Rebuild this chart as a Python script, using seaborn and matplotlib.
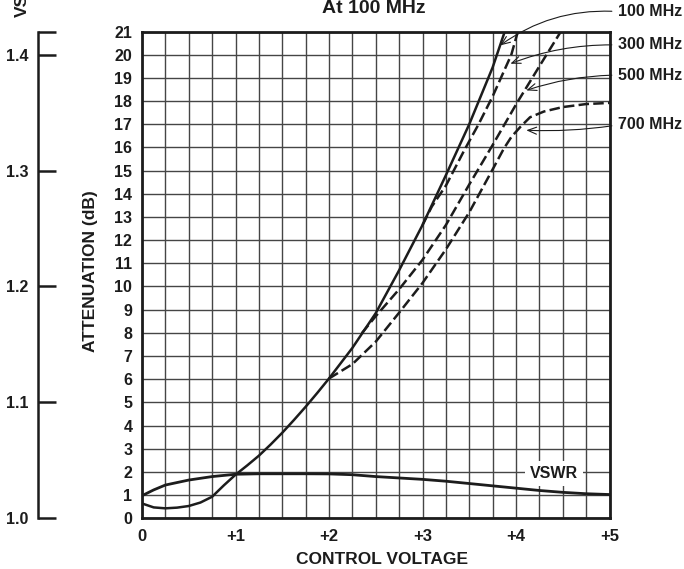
import numpy as np
import matplotlib
matplotlib.use("Agg")
import matplotlib.pyplot as plt
import seaborn as sns

# ---------------- data ----------------
# 100 MHz attenuation (solid)
volt_100 = [0, 0.125, 0.25, 0.375, 0.5, 0.625, 0.75, 0.875, 1.0, 1.125, 1.25,
            1.375, 1.5, 1.625, 1.75, 1.875, 2.0, 2.25, 2.5, 2.75, 3.0, 3.25,
            3.5, 3.75, 3.88]
att_100 = [0.64, 0.47, 0.43, 0.46, 0.53, 0.68, 0.93, 1.42, 1.88, 2.28, 2.70,
           3.18, 3.69, 4.24, 4.81, 5.41, 6.03, 7.35, 8.85, 10.70, 12.65, 14.80,
           17.00, 19.45, 21.00]

# 300 MHz attenuation (dashed)
volt_300 = [3.0, 3.1, 3.25, 3.45, 3.6, 3.75, 3.95, 4.02]
att_300 = [12.65, 13.45, 14.35, 15.90, 17.00, 18.20, 20.00, 21.00]

# 500 MHz attenuation (dashed)
volt_500 = [2.35, 2.5, 2.75, 3.0, 3.25, 3.5, 3.75, 4.0, 4.25, 4.48]
att_500 = [7.98, 8.72, 9.88, 11.15, 12.65, 14.40, 16.10, 17.85, 19.50, 21.00]

# 700 MHz attenuation (dashed)
volt_700 = [2.0, 2.25, 2.5, 2.75, 3.0, 3.25, 3.5, 3.75, 3.87, 3.95, 4.05,
            4.15, 4.3, 4.5, 4.75, 5.0]
att_700 = [6.03, 6.65, 7.62, 8.87, 10.15, 11.60, 13.20, 15.05, 15.95, 16.45,
           16.90, 17.30, 17.55, 17.74, 17.87, 17.92]

# VSWR at 100 MHz (left scale)
volt_vswr = [0, 0.125, 0.25, 0.5, 0.75, 1.0, 1.25, 1.5, 1.75, 2.0, 2.25, 2.5,
             2.75, 3.0, 3.25, 3.5, 3.75, 4.0, 4.25, 4.5, 4.75, 5.0]
vswr = [1.0195, 1.0245, 1.0287, 1.0330, 1.0360, 1.0380, 1.0384, 1.0384,
        1.0384, 1.0383, 1.0376, 1.0360, 1.0348, 1.0336, 1.0320, 1.0300,
        1.0280, 1.0260, 1.0240, 1.0224, 1.0212, 1.0205]

x_ticks = [0, 1, 2, 3, 4, 5]
x_tick_labels = ["0", "+1", "+2", "+3", "+4", "+5"]
y_ticks = list(range(0, 22))
vswr_ticks = [1.0, 1.1, 1.2, 1.3, 1.4, 1.42]
vswr_tick_labels = ["1.0", "1.1", "1.2", "1.3", "1.4", ""]
freq_labels = ["100 MHz", "300 MHz", "500 MHz", "700 MHz"]

# ---------------- style ----------------
sns.set_style("white")
plt.rcParams["font.family"] = ["Liberation Sans", "DejaVu Sans"]
plt.rcParams["font.weight"] = "bold"
INK = "#1c1c1c"

W, H = 684, 569
fig = plt.figure(figsize=(W / 100, H / 100), dpi=100)
L, R, T, B = 142, 609.5, 31.5, 518.3
ax = fig.add_axes([L / W, 1 - B / H, (R - L) / W, (B - T) / H])

ax.set_xlim(0, 5)
ax.set_ylim(0, 21)
ax.set_xticks(x_ticks)
ax.set_xticklabels(x_tick_labels)
ax.set_xticks(np.arange(0, 5.001, 0.25), minor=True)
ax.set_yticks(y_ticks)
ax.set_axisbelow(True)
ax.grid(which="both", color="#454545", lw=1.0)
ax.tick_params(which="both", length=0)
ax.tick_params(axis="x", pad=8, labelsize=12, colors=INK)
ax.tick_params(axis="y", pad=7, labelsize=11.5, colors=INK)
for s in ax.spines.values():
    s.set_visible(True)
    s.set_linewidth(2.0)
    s.set_color(INK)

lw = 1.8
dash = (0, (4.2, 1.7))
sns.lineplot(x=volt_100, y=att_100, ax=ax, color=INK, lw=lw, sort=False, estimator=None)
sns.lineplot(x=volt_300, y=att_300, ax=ax, color=INK, lw=lw, linestyle=dash, sort=False, estimator=None)
sns.lineplot(x=volt_500, y=att_500, ax=ax, color=INK, lw=lw, linestyle=dash, sort=False, estimator=None)
sns.lineplot(x=volt_700, y=att_700, ax=ax, color=INK, lw=lw, linestyle=dash, sort=False, estimator=None)
ax.set_xlabel("")
ax.set_ylabel("")

# VSWR scale (separate spine at far left)
ax2 = ax.twinx()
ax2.set_ylim(1.0, 1.42)
for side in ["right", "top", "bottom"]:
    ax2.spines[side].set_visible(False)
ax2.spines["left"].set_visible(True)
ax2.spines["left"].set_position(("axes", (38 - L) / (R - L)))
ax2.spines["left"].set_linewidth(1.8)
ax2.spines["left"].set_color(INK)
ax2.yaxis.set_ticks_position("left")
ax2.set_yticks(vswr_ticks)
ax2.set_yticklabels(vswr_tick_labels)
ax2.tick_params(axis="y", direction="in", length=13, width=1.8, pad=7,
                labelsize=11.5, colors=INK)
sns.lineplot(x=volt_vswr, y=vswr, ax=ax2, color=INK, lw=2.0, sort=False, estimator=None)
ax2.set_ylabel("")

# in-plot VSWR tag
ax.text(4.41, 1.93, "VSWR", ha="center", va="center", fontsize=11.5,
        fontweight="bold", color=INK,
        bbox=dict(boxstyle="square,pad=0.3", fc="white", ec="none"), zorder=5)

# frequency labels with arrows
label_xy = [(5.09, 21.86), (5.09, 20.42), (5.09, 19.12), (5.09, 16.97)]
tip_xy = [(3.83, 20.40), (3.94, 19.61), (4.11, 18.46), (4.11, 16.74)]
rads = [0.18, 0.1, 0.08, -0.05]
for lab, txy, pxy, rad in zip(freq_labels, label_xy, tip_xy, rads):
    ax.annotate(lab, xy=pxy, xytext=txy, textcoords="data", ha="left",
                va="center", fontsize=11.5, fontweight="bold", color=INK,
                annotation_clip=False,
                arrowprops=dict(arrowstyle="->,head_length=0.55,head_width=0.22",
                                color=INK, lw=0.8, shrinkA=2, shrinkB=0,
                                relpos=(0, 0.5),
                                connectionstyle=f"arc3,rad={rad}"))

# figure texts
fig.text(382 / W, 1 - 559 / H, "CONTROL VOLTAGE", ha="center", va="center",
         fontsize=12.5, fontweight="bold", color=INK)
fig.text(90 / W, 1 - 271 / H, "ATTENUATION (dB)", ha="center", va="center",
         rotation=90, fontsize=12.5, fontweight="bold", color=INK)
fig.text(374 / W, 1 - 13 / H, "At 100 MHz", ha="center", va="baseline",
         fontsize=14, fontweight="bold", color=INK)
fig.text(22 / W, 1 - 17 / H, "VSWR", ha="center", va="bottom", rotation=90,
         fontsize=12.5, fontweight="bold", color=INK)

fig.savefig("out.png", dpi=100)
